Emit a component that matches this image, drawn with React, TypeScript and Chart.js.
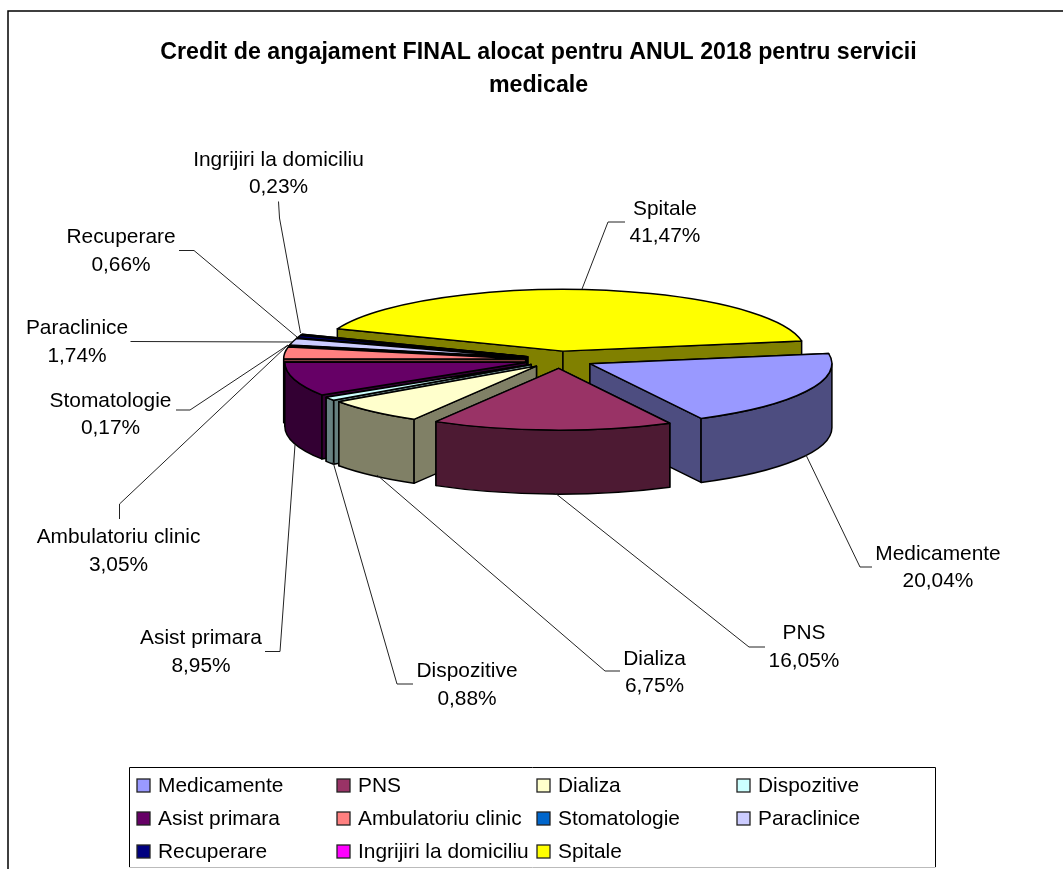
import React, { useEffect, useRef } from "react";
import { Chart, registerables } from "chart.js";

Chart.register(...registerables);

const FONT = "'Liberation Sans', Arial, sans-serif";

const titleLines = [
  "Credit de angajament FINAL alocat pentru ANUL 2018 pentru servicii",
  "medicale",
];
const categories = [
  "Medicamente", "PNS", "Dializa", "Dispozitive", "Asist primara", "Ambulatoriu clinic",
  "Stomatologie", "Paraclinice", "Recuperare", "Ingrijiri la domiciliu", "Spitale",
];
const percentages = [20.04, 16.05, 6.75, 0.88, 8.95, 3.05, 0.17, 1.74, 0.66, 0.23, 41.47];
const sliceColors = [
  "#9999FF", "#993366", "#FFFFCC", "#CCFFFF", "#660066", "#FF8080",
  "#0066CC", "#CCCCFF", "#000080", "#FF00FF", "#FFFF00",
];
const wallColors = [
  "#4D4D80", "#4D1A33", "#808066", "#668080", "#330033", "#804040",
  "#003366", "#666680", "#000040", "#800080", "#808000",
];

// Annotation layout, in page pixels (one row per category)
const labelCentres: [number, number][] = [
  [938, 554], [804, 633.5], [654.5, 659], [467, 671.5], [201, 638.5], [118.5, 537.5],
  [110.5, 401], [77, 328.5], [121, 237.5], [278.5, 160], [665, 209],
];
const leaderLines: [number, number][][] = [
  [[872, 567], [860, 567], [806, 455]],
  [[765, 647], [749, 647], [555, 493]],
  [[620, 671], [605, 671], [377, 475]],
  [[413, 684], [397, 684], [333, 462]],
  [[265, 651.5], [280, 651.5], [295, 445]],
  [[119.5, 519], [119.5, 504], [288, 345]],
  [[176, 410], [190, 410], [288, 345]],
  [[130.5, 341.5], [293, 342]],
  [[179, 250.5], [194, 250.5], [297, 337]],
  [[278.5, 201.5], [279.5, 218], [300.5, 333]],
  [[625, 222], [608, 222], [582, 289]],
];

const TILT = 0.255;
const DEPTH = 64;
const EXPLODE = 34;
const PIE_RADIUS = 242;
const PIE_SHIFT_X = 21;
const LINE_GAP = 27.5;
const legendCols = [137, 337, 537, 737];
const legendRows = [785.5, 818.5, 851.5];

const pie3d = {
  id: "pie3d",
  beforeDraw(chart: any) {
    const { ctx } = chart;
    ctx.save();
    ctx.strokeStyle = "#000";
    ctx.lineWidth = 1.5;
    ctx.beginPath();
    ctx.moveTo(8, 869);
    ctx.lineTo(8, 11);
    ctx.lineTo(1063, 11);
    ctx.stroke();
    ctx.restore();
  },
  beforeDatasetDraw(chart: any, args: any) {
    const { ctx } = chart;
    const arcs = [...args.meta.data.map((el: any, i: number) => ({ el, i }))];
    const mid = (a: any) => (a.el.startAngle + a.el.endAngle) / 2;
    arcs.sort((a, b) => Math.sin(mid(a)) - Math.sin(mid(b)));
    ctx.save();
    ctx.lineJoin = "round";
    for (const a of arcs) {
      const { el, i } = a;
      const m = mid(a);
      const px = el.x + PIE_SHIFT_X + Math.cos(m) * EXPLODE;
      const py = el.y + Math.sin(m) * EXPLODE * TILT;
      const r = el.outerRadius;
      const ry = r * TILT;
      const edge = (t: number): [number, number] => [px + Math.cos(t) * r, py + Math.sin(t) * ry];
      ctx.strokeStyle = "#000";
      ctx.lineWidth = 1.5;
      ctx.fillStyle = wallColors[i];
      // radial walls: hidden one first, the one facing the viewer after it
      const walls = [
        { t: el.startAngle, facing: Math.cos(el.startAngle) < 0 },
        { t: el.endAngle, facing: Math.cos(el.endAngle) > 0 },
      ].sort((u, v) => Number(u.facing) - Number(v.facing));
      for (const w of walls) {
        const [ex, ey] = edge(w.t);
        ctx.beginPath();
        ctx.moveTo(px, py);
        ctx.lineTo(ex, ey);
        ctx.lineTo(ex, ey + DEPTH);
        ctx.lineTo(px, py + DEPTH);
        ctx.closePath();
        ctx.fill();
        ctx.stroke();
      }
      // curved wall: only where the rim faces the viewer
      for (let k = -1; k <= 2; k++) {
        const lo = Math.max(el.startAngle, 2 * Math.PI * k);
        const hi = Math.min(el.endAngle, 2 * Math.PI * k + Math.PI);
        if (hi <= lo) continue;
        ctx.beginPath();
        ctx.ellipse(px, py, r, ry, 0, lo, hi, false);
        ctx.ellipse(px, py + DEPTH, r, ry, 0, hi, lo, true);
        ctx.closePath();
        ctx.fill();
        ctx.stroke();
      }
      // top face: the library's own arc element, flattened by the tilt
      ctx.save();
      ctx.translate(px, py);
      ctx.scale(1, TILT);
      ctx.translate(-el.x, -el.y);
      el.draw(ctx);
      ctx.restore();
      ctx.beginPath();
      ctx.moveTo(px, py);
      ctx.ellipse(px, py, r, ry, 0, el.startAngle, el.endAngle, false);
      ctx.closePath();
      ctx.stroke();
    }
    ctx.restore();
    return false;
  },
  afterDraw(chart: any) {
    const { ctx } = chart;
    const labels: string[] = chart.data.labels;
    const values: number[] = chart.data.datasets[0].data;
    ctx.save();
    // leader lines
    ctx.strokeStyle = "#222";
    ctx.lineWidth = 1;
    for (const pts of leaderLines) {
      ctx.beginPath();
      pts.forEach(([x, y], n) => (n ? ctx.lineTo(x, y) : ctx.moveTo(x, y)));
      ctx.stroke();
    }
    // data labels
    ctx.fillStyle = "#000";
    ctx.font = `20.9px ${FONT}`;
    ctx.textAlign = "center";
    ctx.textBaseline = "middle";
    labels.forEach((name, i) => {
      const [x, y] = labelCentres[i];
      ctx.fillText(name, x, y);
      ctx.fillText(values[i].toFixed(2).replace(".", ",") + "%", x, y + LINE_GAP);
    });
    // legend
    ctx.strokeStyle = "#000";
    ctx.lineWidth = 1;
    ctx.beginPath();
    ctx.moveTo(129.5, 867);
    ctx.lineTo(129.5, 767.5);
    ctx.lineTo(935.5, 767.5);
    ctx.lineTo(935.5, 867);
    ctx.stroke();
    ctx.strokeStyle = "#bbb";
    ctx.beginPath();
    ctx.moveTo(129.5, 867.5);
    ctx.lineTo(935.5, 867.5);
    ctx.stroke();
    ctx.textAlign = "left";
    labels.forEach((name, i) => {
      const x = legendCols[i % 4];
      const y = legendRows[Math.floor(i / 4)];
      ctx.fillStyle = sliceColors[i];
      ctx.strokeStyle = "#222";
      ctx.lineWidth = 1.3;
      ctx.fillRect(x, y - 6.5, 13, 13);
      ctx.strokeRect(x, y - 6.5, 13, 13);
      ctx.fillStyle = "#000";
      ctx.fillText(name, x + 21, y + 0.5);
    });
    ctx.restore();
  },
};

export default function App() {
  const ref = useRef<HTMLCanvasElement>(null);
  useEffect(() => {
    const chart = new Chart(ref.current!, {
      type: "pie",
      data: {
        labels: categories,
        datasets: [
          {
            data: percentages,
            backgroundColor: sliceColors,
            borderWidth: 0,
          },
        ],
      },
      options: {
        animation: false,
        responsive: false,
        rotation: 80.5,
        radius: PIE_RADIUS,
        layout: { padding: { left: 0, right: 0, top: 0, bottom: 252 } },
        plugins: {
          legend: { display: false },
          tooltip: { enabled: false },
          title: {
            display: true,
            text: titleLines,
            color: "#000",
            font: { family: FONT, size: 23.2, weight: "bold", lineHeight: 33 / 23.2 },
            padding: { top: 36.5, bottom: 0 },
          },
        },
      },
      plugins: [pie3d],
    } as any);
    return () => chart.destroy();
  }, []);
  return (
    <div style={{ position: "fixed", left: 0, top: 0, width: 1063, height: 869, overflow: "hidden", background: "#fff" }}>
      <canvas ref={ref} width={1077} height={869} style={{ display: "block" }} />
    </div>
  );
}
